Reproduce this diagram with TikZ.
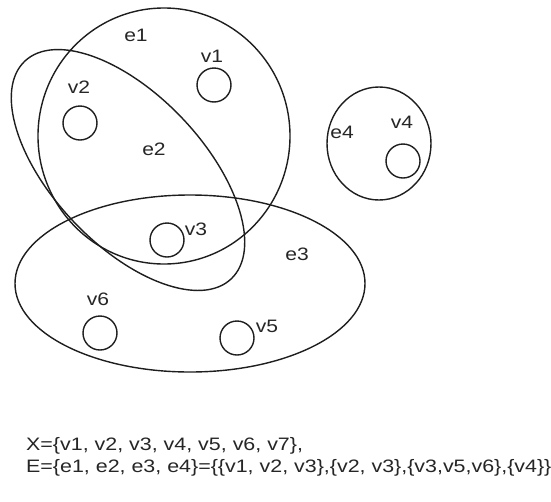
\documentclass[tikz,border=0pt]{standalone}
\usepackage{fontspec}
\usepackage{graphicx}
\setmainfont{Liberation Sans}
\definecolor{linec}{HTML}{1E1E1E}
\definecolor{textc}{HTML}{262626}
\newcommand{\wtxt}[1]{\scalebox{1.17}[1]{#1}}
\tikzset{
  edgeline/.style={draw=linec, line width=1.4pt},
  vertexnode/.style={circle, draw=linec, line width=1.4pt, minimum size=34pt, inner sep=0pt},
  lbl/.style={text=textc, inner sep=0pt, anchor=base, font=\fontsize{18}{20}\selectfont},
  txt/.style={text=textc, inner sep=0pt, anchor=base west, font=\fontsize{18}{20}\selectfont}
}
\begin{document}
\begin{tikzpicture}[x=1pt,y=1pt]
\useasboundingbox (0,0) rectangle (551,-501);
\fill[white] (0,0) rectangle (551,-501);
% hyperedges
\draw[edgeline] (164,-136) ellipse [x radius=126, y radius=128];
\draw[edgeline, rotate around={-46.5:(128,-170)}] (128,-170) ellipse [x radius=150, y radius=75];
\draw[edgeline] (190,-283.5) ellipse [x radius=175, y radius=88.5];
\draw[edgeline] (379,-143.5) ellipse [x radius=52, y radius=56.5];
% vertices
\node[vertexnode] (v1) at (214,-85) {};
\node[vertexnode] (v2) at (80,-123) {};
\node[vertexnode] (v3) at (167,-240) {};
\node[vertexnode] (v4) at (403,-161) {};
\node[vertexnode] (v5) at (237,-338) {};
\node[vertexnode] (v6) at (100,-333) {};
% labels
\node[lbl] (le1) at (136,-41) {\wtxt{e1}};
\node[lbl] (lv1) at (212,-62) {\wtxt{v1}};
\node[lbl] (lv2) at (79,-93) {\wtxt{v2}};
\node[lbl] (le2) at (154,-155) {\wtxt{e2}};
\node[lbl] (lv3) at (196,-235) {\wtxt{v3}};
\node[lbl] (le3) at (297,-260) {\wtxt{e3}};
\node[lbl] (lv6) at (98,-305) {\wtxt{v6}};
\node[lbl] (lv5) at (267,-332) {\wtxt{v5}};
\node[lbl] (le4) at (342,-138) {\wtxt{e4}};
\node[lbl] (lv4) at (402,-128) {\wtxt{v4}};
% text
\node[txt] (tx) at (26,-450) {\scalebox{1.19}[1]{X=\{v1, v2, v3, v4, v5, v6, v7\},}};
\node[txt] (te) at (26,-472) {\scalebox{1.19}[1]{E=\{e1, e2, e3, e4\}=\{\{v1, v2, v3\},\{v2, v3\},\{v3,v5,v6\},\{v4\}\}}};
\end{tikzpicture}
\end{document}
